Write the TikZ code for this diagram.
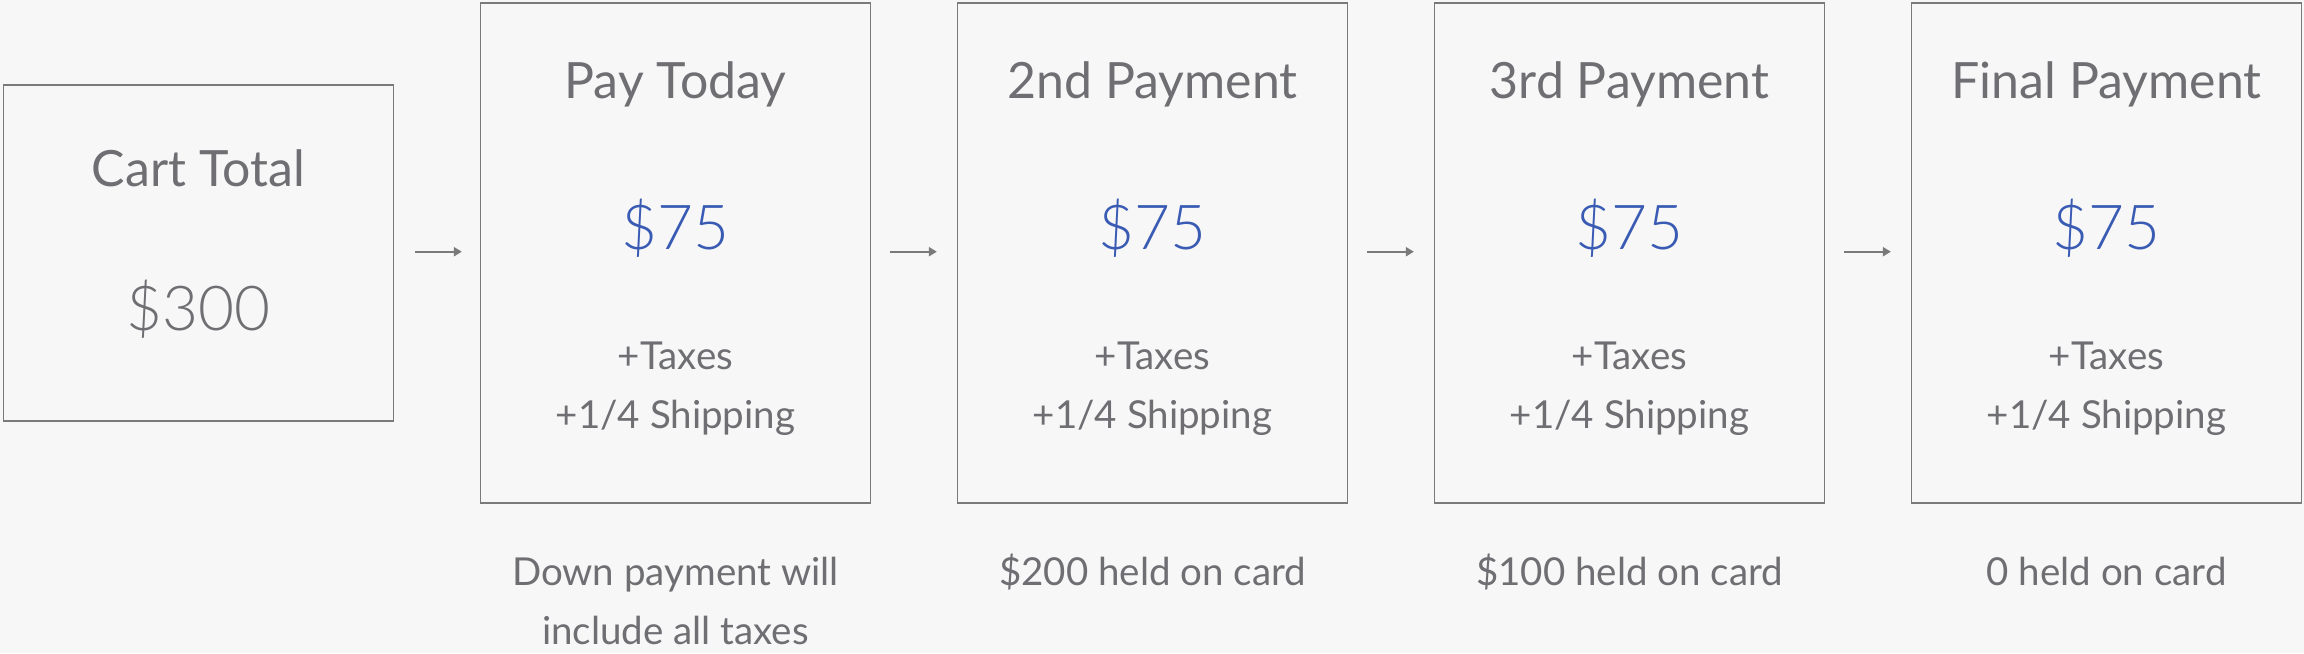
\documentclass[tikz,border=0pt]{standalone}
\usepackage{fontspec}
\setmainfont{Lato}
\newfontfamily\lightfont{Lato Light}
\usepackage{tikz}
\usetikzlibrary{positioning,calc,arrows.meta}

\definecolor{bgcol}{HTML}{F7F7F7}
\definecolor{txtgray}{HTML}{6E6E73}
\definecolor{linegray}{HTML}{7A7A7A}
\definecolor{payblue}{HTML}{3A5BB4}

\tikzset{
  box/.style={draw=linegray, line width=1.3pt, minimum width=390pt, inner sep=0pt},
  head/.style={text=txtgray, font=\fontsize{50}{60}\selectfont, anchor=base},
  amount/.style={font=\lightfont\fontsize{62}{74}\selectfont, anchor=base},
  note/.style={text=txtgray, font=\fontsize{38.5}{46}\selectfont, anchor=base},
  flow/.style={draw=linegray, line width=2.2pt, -{Triangle[length=8pt,width=9pt]}}
}

\begin{document}
\begin{tikzpicture}[x=1pt,y=-1pt,node distance=85.7pt]
  \path[use as bounding box, fill=bgcol] (0,0) rectangle (2304,653);

  % boxes
  \node[box, minimum height=336pt] (cart) at (198.5,253) {};
  \node[box, minimum height=500pt] (pay) at (675.5,253) {};
  \node[box, minimum height=500pt, right=of pay] (p2) {};
  \node[box, minimum height=500pt, right=of p2] (p3) {};
  \node[box, minimum height=500pt, right=of p3] (p4) {};

  % cart total
  \node[head] (cart-t) at ($(cart.north)+(0,102.5)$) {Cart Total};
  \node[amount, text=txtgray] (cart-a) at ($(cart.north)+(0,246)$) {\$300};

  % payments
  \foreach \p/\t in {pay/Pay Today, p2/2nd Payment, p3/3rd Payment, p4/Final Payment} {
    \node[head] (\p-t) at ($(\p.north)+(0,95.7)$) {\t};
    \node[amount, text=payblue] (\p-a) at ($(\p.north)+(0,246.7)$) {\$75};
    \node[note] (\p-x) at ($(\p.north)+(0,366.7)$) {+Taxes};
    \node[note] (\p-s) at ($(\p.north)+(0,425.7)$) {+1/4 Shipping};
  }

  % held on card
  \node[note] (pay-d1) at ($(pay.south)+(0,82)$) {Down payment will};
  \node[note] (pay-d2) at ($(pay.south)+(0,140.5)$) {include all taxes};
  \node[note] (p2-h) at ($(p2.south)+(0,82)$) {\$200 held on card};
  \node[note] (p3-h) at ($(p3.south)+(0,82)$) {\$100 held on card};
  \node[note] (p4-h) at ($(p4.south)+(0,82)$) {0 held on card};

  % arrows
  \draw[flow] ([xshift=21pt,yshift=1.3pt]cart.east) -- ([xshift=-18pt,yshift=1.3pt]pay.west);
  \draw[flow] ([xshift=19pt,yshift=1.3pt]pay.east) -- ([xshift=-20pt,yshift=1.3pt]p2.west);
  \draw[flow] ([xshift=19pt,yshift=1.3pt]p2.east) -- ([xshift=-20pt,yshift=1.3pt]p3.west);
  \draw[flow] ([xshift=19pt,yshift=1.3pt]p3.east) -- ([xshift=-20pt,yshift=1.3pt]p4.west);
\end{tikzpicture}
\end{document}
